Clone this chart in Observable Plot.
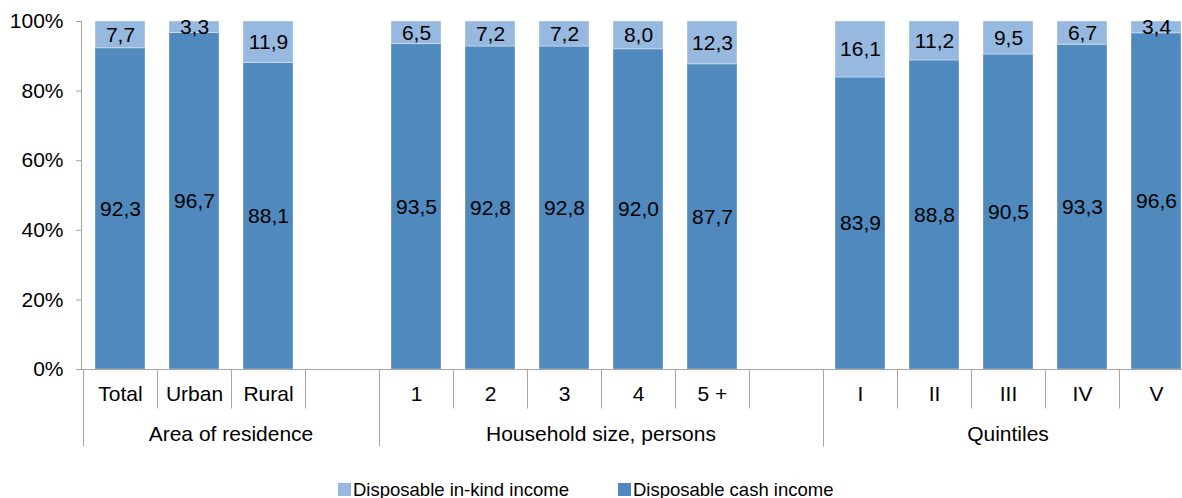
<!DOCTYPE html>
<html><head><meta charset="utf-8">
<script src="https://cdn.jsdelivr.net/npm/d3@7"></script>
<script src="https://cdn.jsdelivr.net/npm/@observablehq/plot@0.6"></script>
<style>
html,body{margin:0;padding:0;background:#fff;overflow:hidden;width:1182px;height:498px;}
#chart svg{display:block;max-width:none !important;}
.legend{display:flex;align-items:center;padding-left:338px;height:20px;margin-top:9.5px;font-family:'Liberation Sans',Arial,sans-serif;font-size:18.5px;color:#000;white-space:nowrap}
.item{display:flex;align-items:center;margin-right:49px}
.sw{width:13px;height:13px;margin-right:2px;display:inline-block}
</style></head><body>
<div id="chart"></div>
<script>
const areaCats = ["Total", "Urban", "Rural"];
const sizeCats = ["1", "2", "3", "4", "5 +"];
const quintileCats = ["I", "II", "III", "IV", "V"];
const groupNames = ["Area of residence", "Household size, persons", "Quintiles"];
const cashValues = [92.3, 96.7, 88.1, 93.5, 92.8, 92.8, 92.0, 87.7, 83.9, 88.8, 90.5, 93.3, 96.6];
const inKindValues = [7.7, 3.3, 11.9, 6.5, 7.2, 7.2, 8.0, 12.3, 16.1, 11.2, 9.5, 6.7, 3.4];
const seriesNames = ["Disposable in-kind income", "Disposable cash income"];
const seriesColors = ["#97B9E0", "#4F89BD"];
const yTicks = [0, 20, 40, 60, 80, 100];

const gapKeys = ["gap-1", "gap-2"];
const groupSlots = [[...areaCats, gapKeys[0]], [...sizeCats, gapKeys[1]], [...quintileCats]];
const domain = groupSlots.flat();
const barCats = [...areaCats, ...sizeCats, ...quintileCats];

const rows = [
  ...barCats.map((c, i) => ({cat: c, series: seriesNames[1], value: cashValues[i]})),
  ...barCats.map((c, i) => ({cat: c, series: seriesNames[0], value: inKindValues[i]}))
];
const fmt = v => v.toFixed(1).replace(".", ",");
const axisGray = "#A6A6A6";
const FONT = "'Liberation Sans', Arial, sans-serif";
const FS = 21;

function groupedAxis(index, scales, values, dims) {
  const x = scales.x, y = scales.y;
  const bw = typeof x.bandwidth === "function" ? x.bandwidth() : 0;
  const center = c => x(c) + bw / 2;
  const step = center(domain[1]) - center(domain[0]);
  const y0 = Math.round(y(0)) + 0.5, yTop = y(100);
  const left = dims.marginLeft, right = dims.width - dims.marginRight;
  const g = d3.create("svg:g").attr("stroke", axisGray).attr("fill", "none");
  g.append("line").attr("x1", left + 0.5).attr("x2", left + 0.5).attr("y1", yTop).attr("y2", y0);
  g.append("line").attr("x1", left - 5).attr("x2", right).attr("y1", y0).attr("y2", y0);
  groupSlots.forEach((slots, gi) => {
    slots.forEach((c, si) => {
      const bx = Math.round(center(c) - step / 2) + 0.5;
      g.append("line").attr("x1", bx).attr("x2", bx).attr("y1", y0).attr("y2", y0 + (si === 0 ? 77 : 39));
    });
    const mid = d3.mean(slots, center);
    g.append("text").attr("x", mid).attr("y", y0 + 71).attr("text-anchor", "middle")
      .attr("fill", "black").attr("stroke", "none").attr("font-size", FS).text(groupNames[gi]);
  });
  const last = domain[domain.length - 1];
  const rx = Math.round(center(last) + step / 2) + 0.5;
  g.append("line").attr("x1", rx).attr("x2", rx).attr("y1", y0).attr("y2", y0 + 77);
  return g.node();
}

const chart = Plot.plot({
  width: 1194,
  height: 470,
  marginLeft: 81,
  marginRight: 0,
  marginTop: 21,
  marginBottom: 101,
  style: {fontFamily: FONT, fontSize: FS + "px", color: "black", background: "white", overflow: "visible", maxWidth: "none"},
  x: {domain, paddingInner: 0.33, paddingOuter: 0.165, align: 0.5},
  y: {domain: [0, 100]},
  color: {domain: seriesNames, range: seriesColors},
  marks: [
    Plot.barY(rows, {x: "cat", y: "value", z: "series", fill: "series", stroke: "white", strokeOpacity: 0.35, strokeWidth: 1}),
    Plot.axisY(yTicks, {tickFormat: d => d + "%", tickSize: 5, tickPadding: 13, fontSize: FS, stroke: axisGray, fill: "black", label: null}),
    Plot.axisX(domain, {tickFormat: d => gapKeys.includes(d) ? "" : d, tickSize: 0, tickPadding: 17, fontSize: FS, fill: "black", label: null}),
    groupedAxis,
    Plot.text(rows, Plot.stackY({x: "cat", y: "value", z: "series", text: d => fmt(d.value), fontSize: FS, fill: "black"}))
  ]
});
document.getElementById("chart").appendChild(chart);

const legend = d3.select("body").append("div").attr("class", "legend");
seriesNames.forEach((name, i) => {
  const item = legend.append("div").attr("class", "item");
  item.append("span").attr("class", "sw").style("background", seriesColors[i]);
  item.append("span").text(name);
});
</script></body></html>
